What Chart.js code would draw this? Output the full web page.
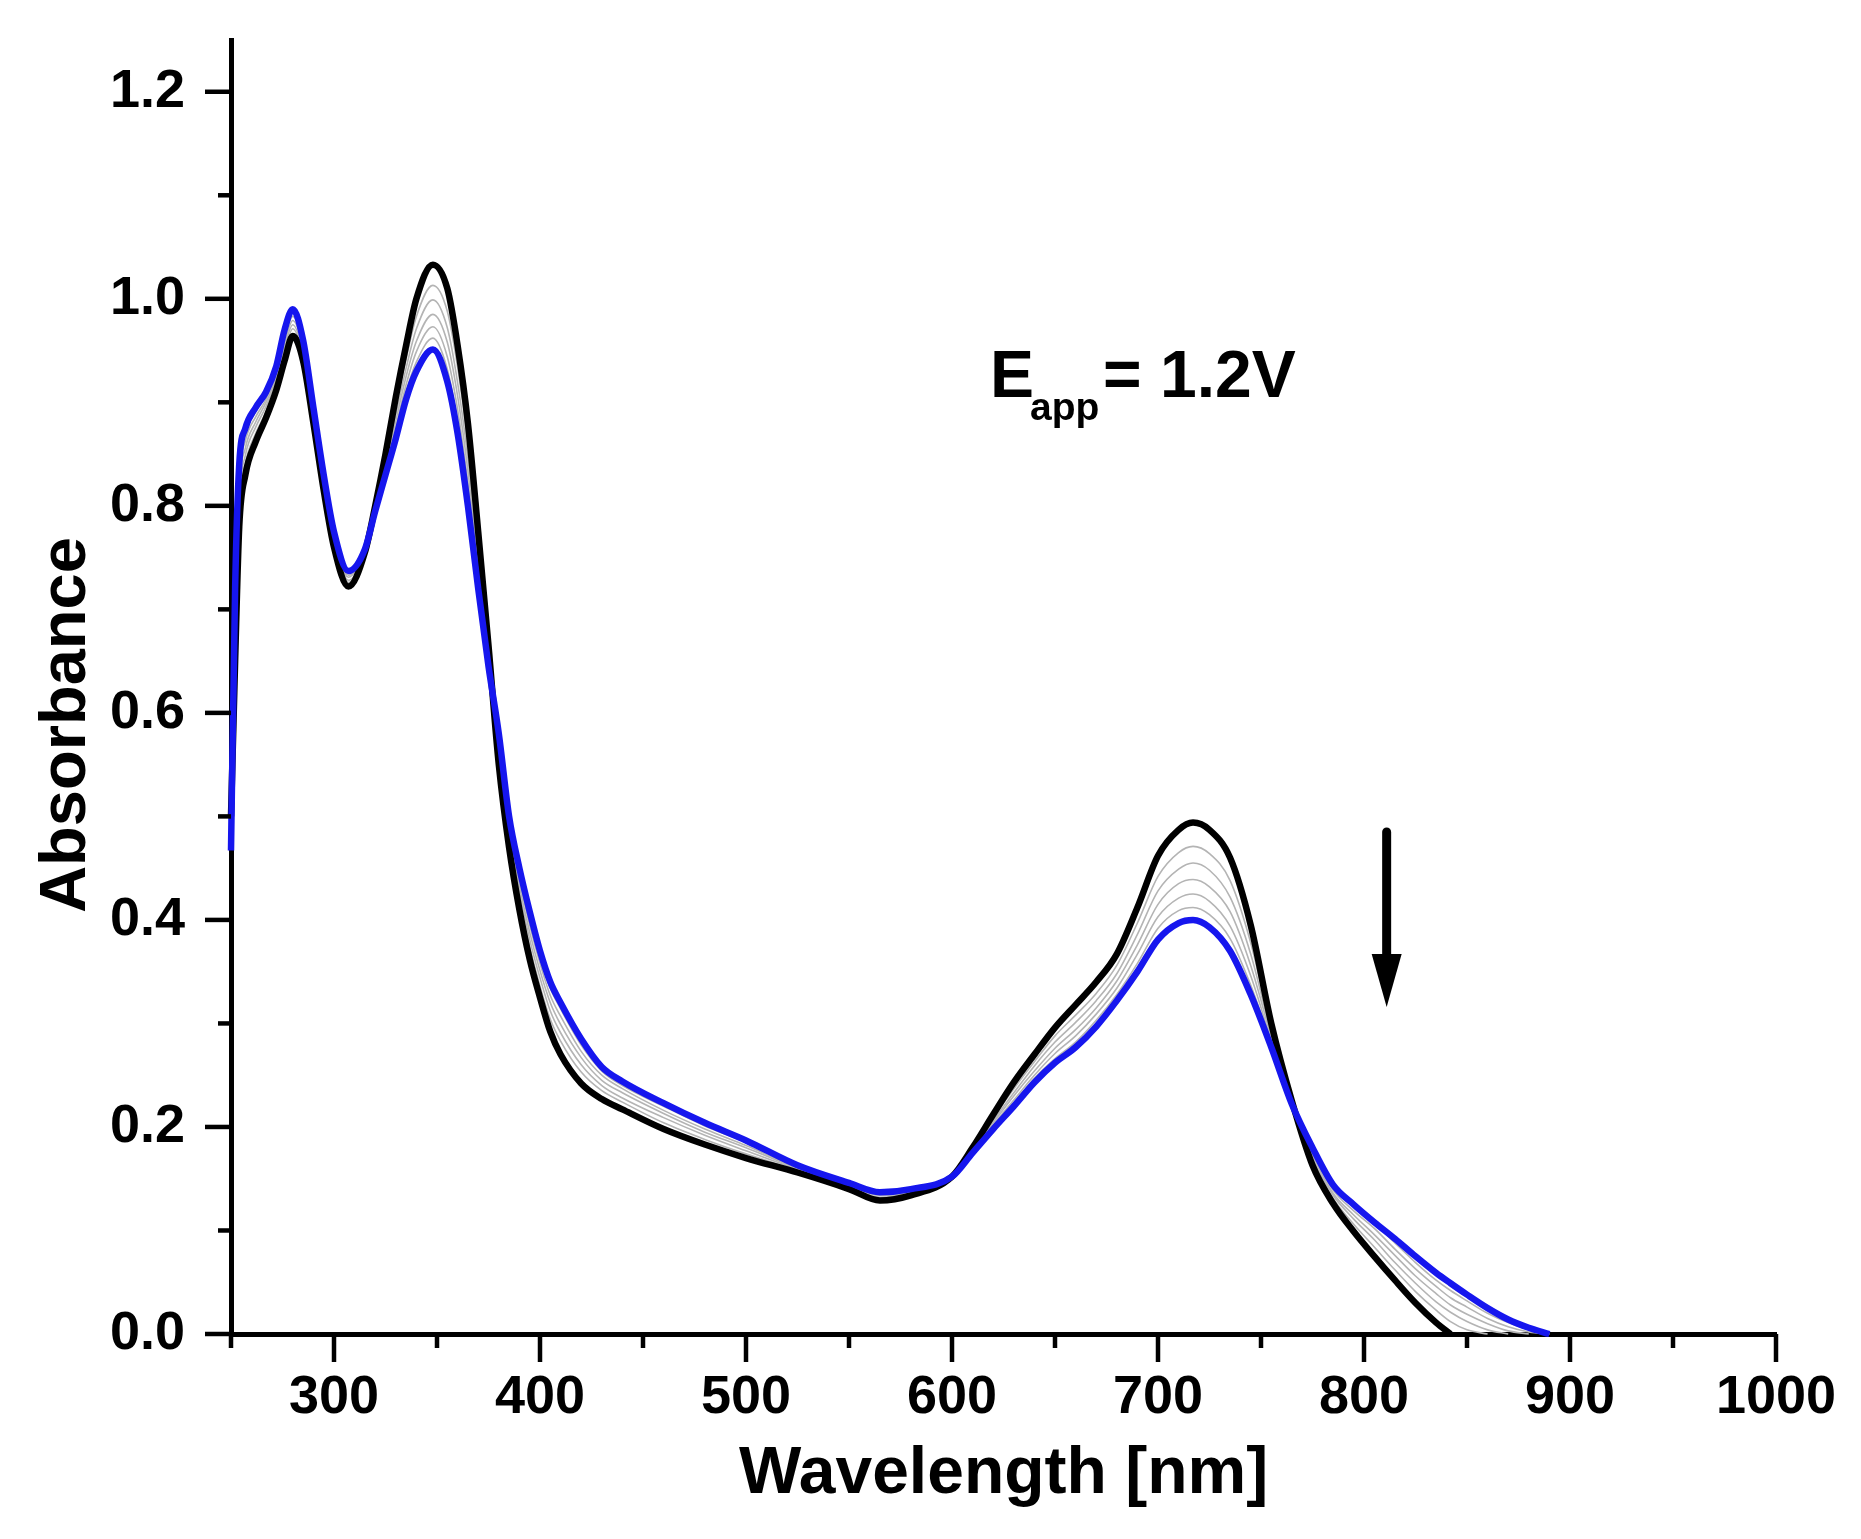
<!DOCTYPE html>
<html lang="en">
    <head>
        <meta charset="UTF-8" />
        <title>Absorbance vs Wavelength, Eapp = 1.2V</title>
        <script src="https://cdn.jsdelivr.net/npm/chart.js@4"></script>
        <style>
            html, body { margin: 0; padding: 0; background: #fff; overflow: hidden; }
            #wrap { width: 1861px; height: 1539px; position: relative; }
        </style>
    </head>
    <body>
        <div id="wrap"><canvas id="myChart"></canvas></div>

        <script>
            // wavelength grid [nm] shared by all spectra
            const wavelengths = [250, 252, 254, 257, 262, 267, 272, 276, 280, 285,
                290, 295, 300, 307, 315, 320, 325, 330, 335, 340,
                348, 355, 360, 365, 370, 375, 380, 385, 390, 395,
                400, 405, 410, 420, 430, 440, 460, 480, 500, 525,
                550, 565, 580, 600, 610, 620, 630, 640, 650, 660,
                670, 680, 690, 700, 710, 717, 725, 735, 745, 755,
                765, 775, 785, 795, 805, 815, 825, 835, 842, 850,
                860, 870, 880, 890];

            // first spectrum (black)
            const startSpectrum = [0.500, 0.650, 0.780, 0.830, 0.862, 0.885, 0.912, 0.940, 0.964, 0.940,
                0.880, 0.815, 0.760, 0.722, 0.755, 0.800, 0.850, 0.905, 0.955, 1.000,
                1.033, 1.010, 0.955, 0.880, 0.775, 0.665, 0.550, 0.470, 0.410, 0.362,
                0.325, 0.292, 0.270, 0.242, 0.227, 0.217, 0.198, 0.183, 0.170, 0.156,
                0.140, 0.129, 0.134, 0.152, 0.180, 0.212, 0.243, 0.270, 0.296, 0.318,
                0.340, 0.367, 0.412, 0.462, 0.487, 0.494, 0.487, 0.460, 0.395, 0.300,
                0.225, 0.163, 0.126, 0.099, 0.075, 0.052, 0.030, 0.011, 0.000, null,
                null, null, null, null];

            // last spectrum (blue)
            const endSpectrum = [0.467, 0.720, 0.840, 0.875, 0.895, 0.910, 0.935, 0.970, 0.990, 0.960,
                0.895, 0.830, 0.775, 0.737, 0.758, 0.795, 0.830, 0.865, 0.903, 0.930,
                0.951, 0.920, 0.870, 0.800, 0.720, 0.645, 0.580, 0.500, 0.450, 0.408,
                0.370, 0.340, 0.320, 0.285, 0.258, 0.244, 0.223, 0.204, 0.187, 0.163,
                0.146, 0.137, 0.140, 0.152, 0.175, 0.198, 0.220, 0.243, 0.262, 0.277,
                0.297, 0.322, 0.350, 0.381, 0.397, 0.400, 0.393, 0.370, 0.328, 0.277,
                0.222, 0.180, 0.144, 0.125, 0.108, 0.092, 0.075, 0.059, 0.049, 0.038,
                0.025, 0.014, 0.006, 0.000];

            // intermediate scans (thin grey)
            const scan1 = [0.492, 0.668, 0.795, 0.841, 0.870, 0.891, 0.918, 0.948, 0.971, 0.945,
                0.884, 0.819, 0.764, 0.726, 0.756, 0.799, 0.845, 0.895, 0.942, 0.983,
                1.013, 0.988, 0.934, 0.860, 0.761, 0.660, 0.558, 0.478, 0.420, 0.374,
                0.336, 0.304, 0.283, 0.253, 0.235, 0.224, 0.204, 0.188, 0.174, 0.158,
                0.142, 0.131, 0.136, 0.152, 0.179, 0.209, 0.237, 0.263, 0.288, 0.308,
                0.329, 0.356, 0.397, 0.442, 0.465, 0.471, 0.464, 0.438, 0.378, 0.294,
                0.224, 0.167, 0.131, 0.106, 0.084, 0.062, 0.041, 0.023, 0.012, 0.004,
                0.000, null, null, null];
            const scan2 = [0.486, 0.679, 0.805, 0.849, 0.876, 0.896, 0.922, 0.953, 0.975, 0.948,
                0.886, 0.821, 0.766, 0.728, 0.756, 0.798, 0.842, 0.888, 0.933, 0.971,
                0.999, 0.972, 0.919, 0.846, 0.752, 0.657, 0.563, 0.483, 0.427, 0.381,
                0.344, 0.312, 0.291, 0.260, 0.240, 0.228, 0.209, 0.192, 0.177, 0.159,
                0.143, 0.132, 0.137, 0.152, 0.178, 0.206, 0.233, 0.259, 0.282, 0.301,
                0.322, 0.348, 0.386, 0.428, 0.449, 0.455, 0.448, 0.422, 0.367, 0.290,
                0.224, 0.170, 0.134, 0.111, 0.091, 0.069, 0.049, 0.031, 0.021, 0.012,
                0.004, 0.000, null, null];
            const scan3 = [0.481, 0.691, 0.815, 0.856, 0.881, 0.900, 0.925, 0.957, 0.979, 0.952,
                0.889, 0.824, 0.769, 0.731, 0.757, 0.797, 0.838, 0.882, 0.925, 0.959,
                0.985, 0.958, 0.906, 0.834, 0.743, 0.653, 0.567, 0.487, 0.433, 0.388,
                0.351, 0.320, 0.299, 0.267, 0.245, 0.233, 0.213, 0.195, 0.180, 0.160,
                0.143, 0.134, 0.137, 0.152, 0.177, 0.204, 0.230, 0.254, 0.276, 0.294,
                0.315, 0.341, 0.376, 0.415, 0.435, 0.439, 0.432, 0.408, 0.356, 0.287,
                0.223, 0.173, 0.136, 0.115, 0.096, 0.076, 0.056, 0.039, 0.028, 0.019,
                0.010, 0.003, 0.000, null];
            const scan4 = [0.476, 0.701, 0.824, 0.863, 0.886, 0.903, 0.929, 0.962, 0.983, 0.955,
                0.891, 0.826, 0.771, 0.733, 0.757, 0.796, 0.835, 0.876, 0.917, 0.949,
                0.973, 0.944, 0.893, 0.822, 0.735, 0.650, 0.572, 0.492, 0.439, 0.395,
                0.358, 0.327, 0.307, 0.273, 0.250, 0.237, 0.216, 0.198, 0.182, 0.161,
                0.144, 0.135, 0.138, 0.152, 0.176, 0.202, 0.226, 0.250, 0.271, 0.288,
                0.309, 0.334, 0.367, 0.403, 0.421, 0.425, 0.418, 0.394, 0.346, 0.283,
                0.223, 0.175, 0.139, 0.119, 0.102, 0.082, 0.063, 0.046, 0.035, 0.026,
                0.015, 0.007, 0.002, 0.000];
            const scan5 = [0.471, 0.711, 0.832, 0.869, 0.891, 0.907, 0.932, 0.966, 0.987, 0.957,
                0.893, 0.828, 0.773, 0.735, 0.758, 0.796, 0.833, 0.870, 0.910, 0.939,
                0.962, 0.932, 0.881, 0.810, 0.727, 0.648, 0.576, 0.496, 0.445, 0.402,
                0.364, 0.334, 0.314, 0.279, 0.254, 0.240, 0.220, 0.201, 0.185, 0.162,
                0.145, 0.136, 0.139, 0.152, 0.176, 0.200, 0.223, 0.247, 0.266, 0.282,
                0.303, 0.328, 0.358, 0.392, 0.409, 0.412, 0.405, 0.382, 0.337, 0.280,
                0.222, 0.178, 0.141, 0.123, 0.107, 0.088, 0.069, 0.052, 0.042, 0.032,
                0.020, 0.011, 0.004, 0.000];
            const intermediateScans = [scan1, scan2, scan3, scan4, scan5];

            // axis ticks
            const xMajorTicks = [300, 400, 500, 600, 700, 800, 900, 1000];
            const xMinorTicks = [250, 350, 450, 550, 650, 750, 850, 950];
            const yMajorTicks = [0, 0.2, 0.4, 0.6, 0.8, 1.0, 1.2];
            const yMinorTicks = [0.1, 0.3, 0.5, 0.7, 0.9, 1.1];

            const FONT = "'Liberation Sans', Arial, sans-serif";

            const toPoints = (values) =>
                wavelengths.map((w, i) => ({ x: w, y: values[i] }));

            // outward tick marks, axis titles, annotation and arrow
            const decorPlugin = {
                id: "decor",
                afterDraw(chart) {
                    const ctx = chart.ctx;
                    const x = chart.scales.x;
                    const y = chart.scales.y;
                    const area = chart.chartArea;
                    ctx.save();
                    ctx.strokeStyle = "#000";
                    ctx.lineWidth = 4.5;
                    ctx.lineCap = "butt";

                    const xTick = (v, len) => {
                        const px = x.getPixelForValue(v);
                        ctx.beginPath();
                        ctx.moveTo(px, area.bottom);
                        ctx.lineTo(px, area.bottom + len);
                        ctx.stroke();
                    };
                    const yTick = (v, len) => {
                        const py = y.getPixelForValue(v);
                        ctx.beginPath();
                        ctx.moveTo(area.left, py);
                        ctx.lineTo(area.left - len, py);
                        ctx.stroke();
                    };
                    xMajorTicks.forEach((v) => xTick(v, 28));
                    xMinorTicks.forEach((v) => xTick(v, 14));
                    yMajorTicks.forEach((v) => yTick(v, 26));
                    yMinorTicks.forEach((v) => yTick(v, 13));

                    ctx.fillStyle = "#000";

                    // x title
                    ctx.font = "bold 66px " + FONT;
                    ctx.textAlign = "center";
                    ctx.textBaseline = "alphabetic";
                    ctx.fillText("Wavelength [nm]", (area.left + area.right) / 2, 1493);

                    // y title
                    ctx.save();
                    ctx.translate(85, 725);
                    ctx.rotate(-Math.PI / 2);
                    ctx.font = "bold 65px " + FONT;
                    ctx.fillText("Absorbance", 0, 0);
                    ctx.restore();

                    // E_app = 1.2V
                    const ax = x.getPixelForValue(618.5);
                    const ay = y.getPixelForValue(0.905);
                    ctx.textAlign = "left";
                    ctx.font = "bold 66px " + FONT;
                    ctx.fillText("E", ax, ay);
                    ctx.font = "bold 39px " + FONT;
                    ctx.fillText("app", ax + 40, ay + 23);
                    ctx.font = "bold 66px " + FONT;
                    ctx.fillText("= 1.2V", ax + 113, ay);

                    // downward arrow
                    const arx = x.getPixelForValue(811);
                    const top = y.getPixelForValue(0.485);
                    const tip = y.getPixelForValue(0.316);
                    ctx.lineWidth = 9;
                    ctx.lineCap = "round";
                    ctx.beginPath();
                    ctx.moveTo(arx, top);
                    ctx.lineTo(arx, tip - 40);
                    ctx.stroke();
                    ctx.beginPath();
                    ctx.moveTo(arx - 15, tip - 53);
                    ctx.lineTo(arx + 15, tip - 53);
                    ctx.lineTo(arx, tip);
                    ctx.closePath();
                    ctx.fill();
                    ctx.restore();
                },
            };

            Chart.register(decorPlugin);

            const datasets = [
                {
                    label: "final",
                    data: toPoints(endSpectrum),
                    borderColor: "rgb(22, 22, 238)",
                    borderWidth: 6.5,
                    order: 0,
                },
                {
                    label: "initial",
                    data: toPoints(startSpectrum),
                    borderColor: "#000000",
                    borderWidth: 6.5,
                    order: 1,
                },
            ];
            intermediateScans.forEach((scan, i) => {
                datasets.push({
                    label: "scan " + (i + 1),
                    data: toPoints(scan),
                    borderColor: "#b4b4b4",
                    borderWidth: 1.6,
                    order: 2,
                });
            });
            datasets.forEach((ds) => {
                ds.pointRadius = 0;
                ds.fill = false;
                ds.spanGaps = false;
                ds.cubicInterpolationMode = "monotone";
                ds.clip = 6;
            });

            const config = {
                type: "line",
                data: { datasets: datasets },
                options: {
                    responsive: true,
                    maintainAspectRatio: false,
                    animation: false,
                    layout: {
                        padding: { top: 40, right: 85, left: 0, bottom: 0 },
                    },
                    plugins: {
                        legend: { display: false },
                        tooltip: { enabled: false },
                    },
                    scales: {
                        x: {
                            type: "linear",
                            min: 250,
                            max: 1000,
                            afterBuildTicks(scale) {
                                scale.ticks = xMajorTicks.map((v) => ({ value: v }));
                            },
                            afterFit(scale) {
                                // pin the plot area: no extra room for edge labels
                                scale.height = 205;
                                scale.paddingLeft = 0;
                                scale.paddingRight = 0;
                            },
                            ticks: {
                                autoSkip: false,
                                maxRotation: 0,
                                padding: 32,
                                color: "#000",
                                font: { family: FONT, size: 54, weight: "bold" },
                                callback: (value) => String(value),
                            },
                            grid: {
                                display: true,
                                drawOnChartArea: false,
                                drawTicks: false,
                            },
                            border: { display: true, color: "#000", width: 5 },
                        },
                        y: {
                            min: 0,
                            max: 1.25,
                            afterBuildTicks(scale) {
                                scale.ticks = yMajorTicks.map((v) => ({ value: v }));
                            },
                            afterFit(scale) {
                                scale.width = 231;
                                scale.paddingTop = 0;
                                scale.paddingBottom = 0;
                            },
                            ticks: {
                                autoSkip: false,
                                padding: 46,
                                color: "#000",
                                font: { family: FONT, size: 54, weight: "bold" },
                                callback: (value) => Number(value).toFixed(1),
                            },
                            grid: {
                                display: true,
                                drawOnChartArea: false,
                                drawTicks: false,
                            },
                            border: { display: true, color: "#000", width: 5 },
                        },
                    },
                },
            };

            const myChart = new Chart(document.getElementById("myChart"), config);
        </script>
    </body>
</html>
